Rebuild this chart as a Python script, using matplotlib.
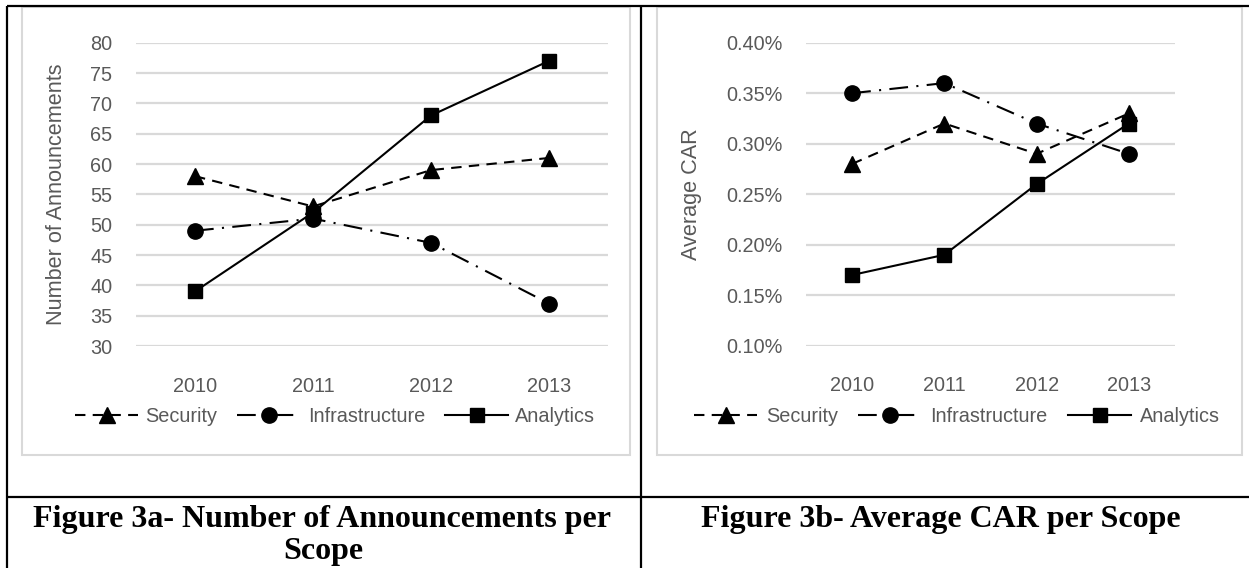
import matplotlib
matplotlib.use("Agg")
import matplotlib.pyplot as plt
from matplotlib.lines import Line2D
from matplotlib.patches import Rectangle

# ---------------- data ----------------
years = ["2010", "2011", "2012", "2013"]
series_names = ["Security", "Infrastructure", "Analytics"]

announce_security = [58, 53, 59, 61]
announce_infrastructure = [49, 51, 47, 37]
announce_analytics = [39, 52, 68, 77]

car_security = [0.28, 0.32, 0.29, 0.33]
car_infrastructure = [0.35, 0.36, 0.32, 0.29]
car_analytics = [0.17, 0.19, 0.26, 0.32]

ticks_a = [30, 35, 40, 45, 50, 55, 60, 65, 70, 75, 80]
ticks_b = [0.10, 0.15, 0.20, 0.25, 0.30, 0.35, 0.40]

caption_a = ["Figure 3a- Number of Announcements per", "Scope"]
caption_b = ["Figure 3b- Average CAR per Scope"]
ylabel_a = "Number of Announcements"
ylabel_b = "Average CAR"

# ---------------- layout helpers ----------------
W, H = 1249, 568
fig = plt.figure(figsize=(W / 100, H / 100), dpi=100)
fig.patch.set_facecolor("white")

SANS = ["Liberation Sans", "Arial", "DejaVu Sans"]
SERIF = ["Liberation Serif", "Times New Roman", "DejaVu Serif"]
GRAY_TXT = "#595959"
GRID = "#D9D9D9"
TXT_SIZE = 14.3
YLAB_SIZE = 15.6
CAP_SIZE = 23


def fx(x):
    return x / W


def fy(y):
    return 1 - y / H


def add_axes_px(x0, y0, x1, y1):
    return fig.add_axes([fx(x0), fy(y1), (x1 - x0) / W, (y1 - y0) / H])


def hline(x0, x1, y, color="black", lw=1.5):
    fig.add_artist(Line2D([fx(x0), fx(x1)], [fy(y), fy(y)], color=color, lw=lw,
                          transform=fig.transFigure, solid_capstyle="butt"))


def vline(x, y0, y1, color="black", lw=1.5):
    fig.add_artist(Line2D([fx(x), fx(x)], [fy(y0), fy(y1)], color=color, lw=lw,
                          transform=fig.transFigure, solid_capstyle="butt"))


def box_px(x0, y0, x1, y1, color=GRID, lw=1.5):
    fig.add_artist(Rectangle((fx(x0), fy(y1)), (x1 - x0) / W, (y1 - y0) / H,
                             fill=False, edgecolor=color, lw=lw,
                             transform=fig.transFigure))


styles = {
    "Security": dict(linestyle=(0, (5, 3.5)), marker="^", markersize=12),
    "Infrastructure": dict(linestyle=(0, (9, 4, 1, 4)), marker="o", markersize=11),
    "Analytics": dict(linestyle="-", marker="s", markersize=10.5),
}


def draw_chart(ax, series, ylim, yticks, fmt, ylabel, label_x_axes):
    x = list(range(len(years)))
    handles = []
    for name, vals in zip(series_names, series):
        st = styles[name]
        (h,) = ax.plot(x, vals, color="black", lw=1.5,
                       markerfacecolor="black", markeredgecolor="black",
                       label=name, **st)
        handles.append(h)
    ax.set_xlim(-0.5, len(years) - 0.5)
    ax.set_ylim(*ylim)
    ax.set_xticks(x)
    ax.set_xticklabels(years)
    ax.set_yticks(yticks)
    ax.set_yticklabels([fmt(v) for v in yticks])
    for s in ax.spines.values():
        s.set_visible(False)
    ax.grid(axis="y", color=GRID, lw=1.6)
    ax.set_axisbelow(True)
    ax.tick_params(axis="both", length=0, labelsize=TXT_SIZE, labelcolor=GRAY_TXT)
    ax.tick_params(axis="y", pad=17)
    ax.tick_params(axis="x", pad=22)
    for lab in ax.get_xticklabels() + ax.get_yticklabels():
        lab.set_fontfamily(SANS)
    ax.set_ylabel(ylabel, fontsize=YLAB_SIZE, color=GRAY_TXT, family=SANS, va="center")
    ax.yaxis.set_label_coords(label_x_axes, 0.5)
    ax.set_facecolor("none")
    return handles


# ---------------- frames ----------------
box_px(22, 7, 630, 455)
box_px(657, 7, 1242, 455)

hline(7, 1249, 6, lw=1.6)
hline(7, 1249, 497, lw=1.6)
vline(7, 6, 568, lw=1.6)
vline(641, 6, 568, lw=1.6)

# ---------------- chart a ----------------
ax1 = add_axes_px(136, 42.7, 608, 346)
h1 = draw_chart(ax1, [announce_security, announce_infrastructure, announce_analytics],
                (30, 80), ticks_a, lambda v: f"{v:d}", ylabel_a, (57 - 136) / (608 - 136))
fig.legend(handles=h1, labels=series_names, loc="center",
           bbox_to_anchor=(fx(335), fy(416)), ncol=3, frameon=False,
           handlelength=3.2, handletextpad=0.35, columnspacing=1.0,
           numpoints=1, prop={"family": SANS, "size": TXT_SIZE}, labelcolor=GRAY_TXT)

# ---------------- chart b ----------------
ax2 = add_axes_px(806, 42.7, 1175, 345.7)
h2 = draw_chart(ax2, [car_security, car_infrastructure, car_analytics],
                (0.10, 0.40), ticks_b, lambda v: f"{v:.2f}%", ylabel_b,
                (692 - 806) / (1175 - 806))
fig.legend(handles=h2, labels=series_names, loc="center",
           bbox_to_anchor=(fx(957), fy(416)), ncol=3, frameon=False,
           handlelength=3.2, handletextpad=0.45, columnspacing=1.0,
           numpoints=1, prop={"family": SANS, "size": TXT_SIZE}, labelcolor=GRAY_TXT)

# ---------------- captions ----------------
fig.text(fx(322), fy(519), caption_a[0], ha="center", va="center",
         family=SERIF, weight="bold", fontsize=CAP_SIZE)
fig.text(fx(323), fy(551), caption_a[1], ha="center", va="center",
         family=SERIF, weight="bold", fontsize=CAP_SIZE)
fig.text(fx(941), fy(520), caption_b[0], ha="center", va="center",
         family=SERIF, weight="bold", fontsize=CAP_SIZE)

fig.savefig("out.png", dpi=100, facecolor="white")
